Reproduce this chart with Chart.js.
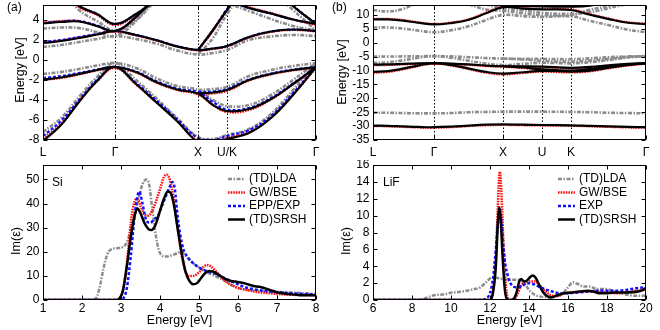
<!DOCTYPE html>
<html><head><meta charset="utf-8">
<script src="https://cdn.jsdelivr.net/npm/chart.js@4.4.1/dist/chart.umd.min.js"></script>
<style>
html,body{margin:0;padding:0;background:#fff;}
body{width:660px;height:330px;position:relative;overflow:hidden;}
canvas{position:absolute;display:block;}
</style></head><body>
<canvas id="ca" width="330" height="160" style="left:0;top:0"></canvas>
<canvas id="cb" width="330" height="160" style="left:330px;top:0"></canvas>
<canvas id="cc" width="330" height="170" style="left:0;top:160px"></canvas>
<canvas id="cd" width="330" height="170" style="left:330px;top:160px"></canvas>
<script>
const N = null;
// ---------- Si band structure (k-path distance, energies in eV) ----------
const siK = [0, 18, 36, 54, 72, 93, 113, 134, 155, 170, 184, 206, 228, 250, 273];
const siKTicks = [0, 72, 155, 184, 273];
const siKLabels = ['L', 'Γ', 'X', 'U/K', 'Γ'];
const siEticks = [-8, -6, -4, -2, 0, 2, 4];

const siBandSRSH = [
  [-8.1,-6.5,-4.2,-2.1,-0.7,-2.4,-4.2,-6.1,-8.2,-8.3,-7.9,-7.3,-5.8,-3.5,-0.7],
  [-1.95,-1.75,-1.4,-1.0,-0.7,-1.2,-2.2,-2.95,-3.35,-4.5,-5.1,-4.9,-3.9,-2.4,-0.7],
  [N,N,N,N,N,N,N,N,-3.35,-3.25,-3.0,-2.0,-1.4,-1.0,-0.7],
  [1.7,1.9,2.2,2.55,2.9,2.5,2.0,1.35,1.0,1.15,1.4,2.3,2.85,3.05,2.9],
  [3.65,3.8,3.85,3.4,2.9,4.3,6.5,N,N,N,N,N,N,N,N],
  [N,7.0,5.4,4.6,3.6,4.6,6.0,N,N,N,N,N,N,N,N],
  [N,N,N,N,N,N,N,N,1.0,3.0,5.0,8.0,N,N,N],
  [N,N,N,N,N,N,N,N,N,N,6.0,5.2,4.65,4.05,3.6],
  [N,N,N,N,N,N,N,N,N,N,N,N,7.5,5.4,3.6]
];
const siBandEPP = [
  [-7.6,-6.1,-4.0,-2.0,-0.7,-2.3,-4.0,-5.9,-7.8,-8.0,-7.6,-7.0,-5.6,-3.3,-0.7],
  [-1.8,-1.6,-1.3,-0.95,-0.7,-1.15,-2.1,-2.85,-3.2,-4.2,-4.95,-4.8,-3.8,-2.35,-0.7],
  [N,N,N,N,N,N,N,N,-3.2,-3.15,-2.9,-1.95,-1.35,-0.95,-0.7],
  [1.8,2.0,2.3,2.6,2.9,2.5,2.0,1.4,1.0,1.15,1.4,2.3,2.85,3.05,2.9],
  [3.7,3.85,3.9,3.45,2.9,4.3,6.5,N,N,N,N,N,N,N,N],
  [N,7.0,5.4,4.6,3.6,4.6,6.0,N,N,N,N,N,N,N,N],
  [N,N,N,N,N,N,N,N,1.0,3.0,5.1,8.0,N,N,N],
  [N,N,N,N,N,N,N,N,N,N,6.0,5.2,4.65,4.05,3.6],
  [N,N,N,N,N,N,N,N,N,N,N,N,7.5,5.45,3.6]
];
const siBandGW = [
  [-7.85,-6.35,-4.1,-2.15,-0.8,-2.45,-4.2,-6.1,-8.1,-8.2,-7.8,-7.2,-5.75,-3.45,-0.8],
  [-2.0,-1.8,-1.45,-1.05,-0.8,-1.25,-2.25,-3.0,-3.45,-4.5,-5.2,-5.0,-3.95,-2.45,-0.8],
  [N,N,N,N,N,N,N,N,-3.45,-3.35,-3.1,-2.05,-1.45,-1.05,-0.8],
  [1.75,1.95,2.25,2.55,2.85,2.45,1.95,1.35,0.95,1.1,1.35,2.25,2.8,3.0,2.85],
  [3.75,3.9,3.9,3.4,2.85,4.3,6.5,N,N,N,N,N,N,N,N],
  [N,7.0,5.3,4.5,3.5,4.5,6.0,N,N,N,N,N,N,N,N],
  [N,N,N,N,N,N,N,N,0.95,2.9,5.0,8.0,N,N,N],
  [N,N,N,N,N,N,N,N,N,N,6.1,5.3,4.7,4.05,3.5],
  [N,N,N,N,N,N,N,N,N,N,N,N,7.5,5.4,3.5]
];
const siBandLDA = [
  [-7.2,-5.8,-3.7,-1.7,-0.3,-2.0,-3.8,-5.8,-7.7,-7.9,-7.5,-6.9,-5.4,-3.0,-0.3],
  [-1.4,-1.2,-0.9,-0.55,-0.3,-0.8,-1.8,-2.6,-3.0,-4.0,-4.6,-4.5,-3.5,-2.0,-0.3],
  [N,N,N,N,N,N,N,N,-3.0,-2.9,-2.7,-1.6,-1.0,-0.6,-0.3],
  [1.3,1.5,1.8,2.1,2.4,2.1,1.65,0.95,0.55,0.7,1.0,2.0,2.35,2.5,2.4],
  [3.15,3.25,3.2,2.8,2.4,3.9,6.5,N,N,N,N,N,N,N,N],
  [N,7.0,5.0,3.9,2.95,4.0,6.0,N,N,N,N,N,N,N,N],
  [N,N,N,N,N,N,N,N,0.55,2.2,4.6,7.5,N,N,N],
  [N,N,N,N,N,N,N,N,N,N,5.7,4.9,4.1,3.4,2.95],
  [N,N,N,N,N,N,N,N,N,N,N,N,7.0,5.0,2.95]
];

// ---------- LiF band structure ----------
const lifK = [0, 15, 30, 45, 61, 78, 96, 113, 130, 150, 169, 198, 217, 236, 255, 273];
const lifKTicks = [0, 61, 130, 169, 198, 273];
const lifKLabels = ['L', 'Γ', 'X', 'U', 'K', 'Γ'];
const lifEticks = [-35, -30, -25, -20, -15, -10, -5, 0, 5, 10];

const lifBandSRSH = [
  [-29.8,-29.9,-30.1,-30.3,-30.4,-30.2,-29.8,-29.5,-29.4,-29.5,-29.6,-29.7,-29.9,-30.1,-30.3,-30.4],
  [-7.9,-7.8,-7.6,-7.4,-7.3,-7.5,-7.8,-8.2,-8.45,-8.5,-8.6,-9.0,-8.7,-8.1,-7.6,-7.3],
  [N,N,N,N,N,N,N,N,-8.45,-8.9,-9.6,-10.0,-9.4,-8.5,-7.8,-7.3],
  [-10.5,-10.2,-9.3,-8.2,-7.3,-8.0,-9.3,-10.5,-11.1,-10.6,-10.1,-10.4,-10.0,-9.0,-8.0,-7.3],
  [8.4,8.4,8.0,7.2,6.6,7.1,8.3,10.6,12.8,12.3,12.0,11.8,10.1,8.5,7.2,6.7],
  [N,N,N,N,N,N,N,15,13.3,13.2,13.1,13.0,13.4,15,N,N]
];
const lifBandGW = [
  [-30.0,-30.1,-30.3,-30.5,-30.6,-30.4,-30.0,-29.7,-29.6,-29.7,-29.8,-29.9,-30.1,-30.3,-30.5,-30.6],
  [-8.1,-8.0,-7.8,-7.6,-7.5,-7.7,-8.0,-8.4,-8.65,-8.7,-8.8,-9.2,-8.9,-8.3,-7.8,-7.5],
  [N,N,N,N,N,N,N,N,-8.65,-9.1,-9.8,-10.2,-9.6,-8.7,-8.0,-7.5],
  [-10.8,-10.5,-9.6,-8.4,-7.5,-8.2,-9.5,-10.8,-11.4,-10.9,-10.4,-10.7,-10.3,-9.2,-8.2,-7.5],
  [8.6,8.6,8.2,7.4,6.8,7.3,8.5,10.8,13.0,12.5,12.2,12.0,10.3,8.7,7.4,6.9],
  [N,N,N,N,N,N,N,15,13.5,13.4,13.3,13.2,13.6,15,N,N]
];
const lifBandLDA = [
  [-25.2,-25.2,-25.3,-25.4,-25.4,-25.3,-25.0,-24.9,-24.8,-24.8,-24.8,-24.9,-25.0,-25.2,-25.3,-25.4],
  [-5.0,-4.95,-4.9,-4.85,-4.8,-4.9,-5.2,-5.5,-5.7,-5.8,-5.8,-5.9,-5.6,-5.2,-4.9,-4.8],
  [N,N,N,N,N,N,N,N,-5.7,-6.0,-6.5,-6.8,-6.4,-5.8,-5.1,-4.8],
  [-7.3,-7.0,-6.3,-5.4,-4.8,-5.4,-6.5,-7.5,-8.0,-7.6,-7.2,-7.4,-7.0,-6.2,-5.3,-4.8],
  [5.5,5.5,5.1,4.4,3.8,4.5,6.0,8.2,10.0,9.6,9.3,9.5,7.9,6.3,4.7,3.8],
  [11.8,11.3,12.2,14.5,N,N,N,N,N,N,N,N,N,N,N,N],
  [N,N,N,N,N,N,13.8,12.0,11.5,10.6,10.0,10.0,11.9,13.2,14.8,N],
  [N,N,N,N,N,N,N,13.8,12.4,11.6,10.8,10.4,11.0,12.5,14.0,N]
];

// ---------- Si absorption spectra: [energy eV, Im(eps)] ----------
const siSpecLDA = [[1,0],[2.2,0],[2.35,0.5],[2.45,5],[2.55,13],[2.65,19],[2.75,21],[2.9,21.5],[3.05,22],[3.15,24],[3.3,32],[3.45,42],[3.55,48],[3.65,50],[3.72,48],[3.8,38],[3.9,26],[4.0,19.5],[4.15,18],[4.3,18.5],[4.45,19.5],[4.55,20],[4.65,18.5],[4.8,16],[5.0,13.5],[5.2,11.5],[5.4,10],[5.6,8.5],[5.8,6.5],[6.0,5],[6.2,4.3],[6.5,4.0],[6.8,3.6],[7.0,3.4],[7.3,3.1],[7.6,2.9],[8.0,2.5]];
const siSpecGW = [[1,0],[2.85,0],[2.95,0.5],[3.05,4],[3.15,15],[3.25,32],[3.35,41],[3.42,42],[3.5,39],[3.6,35.5],[3.7,35],[3.8,37],[3.9,41],[4.0,46],[4.1,51],[4.17,52],[4.25,50],[4.35,42],[4.45,30],[4.55,19],[4.65,12],[4.75,10],[4.85,10],[5.0,11.5],[5.1,13.5],[5.2,14.5],[5.3,14],[5.4,12.5],[5.6,9],[5.8,6.5],[6.0,5],[6.2,4.2],[6.5,3.3],[6.8,2.8],[7.0,2.5],[7.5,2.1],[8.0,2.0]];
const siSpecEPP = [[1,0],[2.95,0],[3.05,0.5],[3.15,5],[3.25,18],[3.35,35],[3.42,43],[3.47,45],[3.55,40],[3.65,33],[3.75,32],[3.85,33.5],[3.95,35],[4.05,39],[4.15,43],[4.25,47],[4.32,49],[4.38,46],[4.45,35],[4.52,27],[4.6,21],[4.7,18],[4.8,16],[5.0,13.5],[5.2,12],[5.4,11],[5.6,9.5],[5.8,8],[6.0,6.5],[6.2,5.2],[6.5,4.2],[6.8,3.5],[7.0,3.2],[7.5,2.7],[8.0,2.3]];
const siSpecSRSH = [[1,0],[2.85,0],[2.95,0.5],[3.05,4],[3.15,14],[3.25,26],[3.35,35],[3.42,38],[3.5,36],[3.6,32],[3.7,29.5],[3.78,29],[3.88,31],[4.0,37],[4.1,42],[4.2,45],[4.27,44.5],[4.35,40],[4.45,30],[4.55,20],[4.65,12],[4.75,8],[4.85,6.5],[4.95,7],[5.05,9],[5.15,11],[5.25,12],[5.35,11.8],[5.5,10.5],[5.65,9],[5.8,8],[6.0,7.5],[6.2,6.8],[6.4,5.8],[6.55,5.5],[6.7,4.8],[6.85,4],[7.0,3.2],[7.3,2.5],[7.6,2.0],[8.0,2.0]];
const siXticks = [1, 2, 3, 4, 5, 6, 7, 8];
const siYticks = [0, 10, 20, 30, 40, 50];

// ---------- LiF absorption spectra ----------
const lifSpecLDA = [[6,0],[8.3,0],[8.6,0.15],[8.9,0.4],[9.2,0.6],[9.6,0.65],[10.0,0.85],[10.4,0.95],[10.8,1.1],[11.2,1.3],[11.5,1.5],[11.8,2.1],[12.1,2.65],[12.4,2.6],[12.7,2.45],[13.0,2.4],[13.4,2.4],[13.7,2.2],[14.0,1.2],[14.3,0.6],[14.6,0.4],[15.0,0.35],[15.4,0.4],[15.7,0.7],[16.0,1.5],[16.25,2.1],[16.5,1.9],[16.8,1.6],[17.1,1.6],[17.5,1.3],[17.9,1.3],[18.3,1.1],[18.7,0.8],[19.2,0.55],[19.6,0.5],[20,0.5]];
const lifSpecGW = [[6,0],[12.0,0],[12.15,1],[12.3,5],[12.4,11],[12.5,15.2],[12.6,12],[12.7,6],[12.8,2],[12.9,0.3],[13.0,0],[13.2,0],[13.4,0.6],[13.55,1.5],[13.7,2.0],[14.0,2.2],[14.3,2.2],[14.6,1.6],[14.9,0.9],[15.2,0.5],[15.5,0.5],[15.8,0.8],[16.2,0.9],[16.8,1.0],[17.5,1.0],[18.0,0.9],[18.5,0.8],[19.0,0.9],[19.5,1.1],[20,1.2]];
const lifSpecEXP = [[6,0],[11.6,0],[11.8,0.2],[12.0,0.8],[12.15,2.5],[12.3,6],[12.4,9],[12.5,10.8],[12.6,9],[12.7,6],[12.8,4],[12.9,3],[13.0,2.2],[13.2,1.6],[13.4,1.5],[13.6,1.6],[13.9,2.0],[14.2,1.9],[14.5,1.6],[14.8,1.3],[15.2,1.0],[15.6,0.8],[16.0,0.8],[16.5,0.9],[17.0,1.0],[17.5,1.1],[18.0,1.1],[18.5,1.1],[19.0,1.2],[19.5,1.4],[20,1.5]];
const lifSpecSRSH = [[6,0],[12.0,0],[12.15,0.8],[12.3,4],[12.4,9],[12.47,11],[12.55,9.5],[12.65,5],[12.75,1.5],[12.85,0.2],[13.0,0],[13.2,0.1],[13.35,0.8],[13.5,2.2],[13.6,2.5],[13.75,2.2],[13.9,2.3],[14.05,2.7],[14.2,2.9],[14.35,2.6],[14.5,1.9],[14.7,1.0],[14.9,0.5],[15.1,0.3],[15.3,0.4],[15.5,0.6],[15.8,0.8],[16.2,0.9],[16.6,1.0],[17.0,1.1],[17.3,1.0],[17.6,0.8],[18.0,0.8],[18.5,0.9],[19.0,0.9],[19.6,1.0],[19.85,1.2],[20,1.45]];
const lifXticks = [6, 8, 10, 12, 14, 16, 18, 20];
const lifYticks = [0, 2, 4, 6, 8, 10, 12, 14, 16];

const legendSi = ['(TD)LDA', 'GW/BSE', 'EPP/EXP', '(TD)SRSH'];
const legendLiF = ['(TD)LDA', 'GW/BSE', 'EXP', '(TD)SRSH'];

// ---------- styles ----------
const FONT = '"Liberation Sans", Arial, Helvetica, sans-serif';
Chart.defaults.font.family = FONT;
Chart.defaults.color = '#000';
const S_LDA = {borderColor:'#8c8c8c', borderWidth:2.5, borderDash:[4,1.5,1.5,1.5]};
const S_GW = {borderColor:'#ff1010', borderWidth:2.5, borderDash:[1.6,1]};
const S_EPP = {borderColor:'#1010ff', borderWidth:2.5, borderDash:[3,2]};
const S_SRSH = {borderColor:'#000000', borderWidth:2.5, borderDash:[]};

function bandSets(k, arr, st, w) {
  return arr.map(b => Object.assign({
    data: b.map((v, i) => ({x: k[i], y: v})),
    tension: 0.4, pointRadius: 0, fill: false
  }, st, {borderWidth: w}));
}
function specSet(pts, st) {
  return Object.assign({
    data: pts.map(p => ({x: p[0], y: p[1]})),
    cubicInterpolationMode: 'monotone', pointRadius: 0, fill: false
  }, st);
}

function mkScales(o) {
  return {
    x: {type:'linear', min:o.xmin, max:o.xmax,
      afterBuildTicks: s => { s.ticks = o.xticks.map(v => ({value:v})); },
      afterFit: s => { s.height = o.xh; s.paddingLeft = 0; s.paddingRight = 0; },
      ticks: {autoSkip:false, maxRotation:0, minRotation:0, padding:o.xpad, color:'#000',
        font:{size:12, family:FONT},
        callback: (v, i) => o.xlabels ? o.xlabels[i] : String(v)},
      grid: {display:false, drawTicks:false}, border: {display:false}},
    y: {type:'linear', min:o.ymin, max:o.ymax,
      afterBuildTicks: s => { s.ticks = o.yticks.map(v => ({value:v})); },
      afterFit: s => { s.width = 43; s.paddingTop = 0; s.paddingBottom = 0; },
      ticks: {autoSkip:false, padding:3.5, color:'#000', font:{size:12, family:FONT}, callback: v => String(v)},
      grid: {display:false, drawTicks:false}, border: {display:false}}
  };
}

const decoPlugin = {
  id: 'deco',
  beforeDatasetsDraw(chart, args, o) {
    if (!o.vlines) return;
    const {ctx, chartArea:a} = chart; const xs = chart.scales.x;
    ctx.save(); ctx.strokeStyle = '#000'; ctx.lineWidth = 1; ctx.setLineDash([1.5, 2]);
    o.vlines.forEach(v => {
      const X = Math.round(xs.getPixelForValue(v)) + 0.5;
      ctx.beginPath(); ctx.moveTo(X, a.top); ctx.lineTo(X, a.bottom); ctx.stroke();
    });
    ctx.restore();
  },
  afterDatasetsDraw(chart, args, o) {
    const {ctx, chartArea:a} = chart; const xs = chart.scales.x, ys = chart.scales.y;
    ctx.save();
    ctx.strokeStyle = '#000'; ctx.lineWidth = 1; ctx.setLineDash([]);
    const L = Math.round(a.left) + 0.5, R = Math.round(a.right) - 0.5, T = Math.round(a.top) + 0.5, B = Math.round(a.bottom) - 0.5;
    ctx.strokeRect(L, T, R - L, B - T);
    ctx.beginPath();
    ys.ticks.forEach(t => { const Y = Math.round(ys.getPixelForValue(t.value)) + 0.5;
      ctx.moveTo(L, Y); ctx.lineTo(L + 4, Y); ctx.moveTo(R, Y); ctx.lineTo(R - 4, Y); });
    xs.ticks.forEach(t => { const X = Math.round(xs.getPixelForValue(t.value)) + 0.5;
      ctx.moveTo(X, B); ctx.lineTo(X, B - 4); ctx.moveTo(X, T); ctx.lineTo(X, T + 4); });
    ctx.stroke();
    if (o.legend) {
      const lg = o.legend;
      lg.items.forEach((it, i) => {
        const y = lg.ys[i];
        ctx.save();
        ctx.strokeStyle = it.st.borderColor; ctx.lineWidth = it.st.borderWidth;
        ctx.setLineDash(it.st.borderDash || []);
        ctx.beginPath(); ctx.moveTo(lg.x1, y); ctx.lineTo(lg.x2, y); ctx.stroke();
        ctx.restore();
        ctx.fillStyle = '#000'; ctx.font = '12px ' + FONT; ctx.textAlign = 'left'; ctx.textBaseline = 'middle';
        ctx.fillText(it.label, lg.tx, y);
      });
    }
    (o.texts || []).forEach(tx => {
      ctx.save();
      ctx.font = (tx.size || 12) + 'px ' + FONT; ctx.fillStyle = '#000';
      ctx.textAlign = tx.align || 'left'; ctx.textBaseline = 'middle';
      ctx.translate(tx.x, tx.y); if (tx.rot) ctx.rotate(tx.rot * Math.PI / 180);
      ctx.fillText(tx.t, 0, 0);
      ctx.restore();
    });
    ctx.restore();
  }
};

function makeChart(id, datasets, so, deco) {
  return new Chart(document.getElementById(id), {
    type: 'line',
    data: {datasets},
    options: {
      responsive: false, animation: false, events: [],
      layout: {padding: {top:5, right:14, bottom:0, left:0}},
      plugins: {legend:{display:false}, tooltip:{enabled:false}, deco},
      scales: mkScales(so)
    },
    plugins: [decoPlugin]
  });
}

// (a) Si bands
makeChart('ca',
  [...bandSets(siK, siBandSRSH, S_SRSH, 2.2), ...bandSets(siK, siBandEPP, S_EPP, 2.2),
   ...bandSets(siK, siBandGW, S_GW, 2.2), ...bandSets(siK, siBandLDA, S_LDA, 2.6)],
  {xmin:0, xmax:273, xticks:siKTicks, xlabels:siKLabels, xh:20, xpad:5, ymin:-8, ymax:5.5, yticks:siEticks},
  {vlines:[72, 155, 184], texts:[{t:'(a)', x:7, y:8}, {t:'Energy [eV]', x:20.8, y:70, rot:-90, size:12.5, align:'center'}]});

// (b) LiF bands
makeChart('cb',
  [...bandSets(lifK, lifBandSRSH, S_SRSH, 2.2), ...bandSets(lifK, lifBandGW, S_GW, 2.2),
   ...bandSets(lifK, lifBandLDA, S_LDA, 2.6)],
  {xmin:0, xmax:273, xticks:lifKTicks, xlabels:lifKLabels, xh:20, xpad:5, ymin:-35, ymax:13.6, yticks:lifEticks},
  {vlines:[61, 130, 169, 198], texts:[{t:'(b)', x:2, y:8}, {t:'Energy [eV]', x:12.5, y:72, rot:-90, size:12.5, align:'center'}]});

const legYs = [19, 32.5, 46, 59.5];
// Si spectrum
makeChart('cc',
  [specSet(siSpecSRSH, S_SRSH), specSet(siSpecEPP, S_EPP), specSet(siSpecGW, S_GW), specSet(siSpecLDA, S_LDA)],
  {xmin:1, xmax:8, xticks:siXticks, xh:30, xpad:1, ymin:0, ymax:56, yticks:siYticks},
  {legend:{x1:228, x2:245, tx:249, ys:legYs, items:[
      {label:legendSi[0], st:S_LDA}, {label:legendSi[1], st:S_GW}, {label:legendSi[2], st:S_EPP}, {label:legendSi[3], st:S_SRSH}]},
   texts:[{t:'Si', x:52, y:23}, {t:'Im(ε)', x:16.2, y:81, rot:-90, size:12.5, align:'center'},
          {t:'Energy [eV]', x:179.5, y:161, size:12.5, align:'center'}]});

// LiF spectrum
makeChart('cd',
  [specSet(lifSpecSRSH, S_SRSH), specSet(lifSpecEXP, S_EPP), specSet(lifSpecGW, S_GW), specSet(lifSpecLDA, S_LDA)],
  {xmin:6, xmax:20, xticks:lifXticks, xh:30, xpad:1, ymin:0, ymax:16, yticks:lifYticks},
  {legend:{x1:228, x2:245, tx:249, ys:legYs, items:[
      {label:legendLiF[0], st:S_LDA}, {label:legendLiF[1], st:S_GW}, {label:legendLiF[2], st:S_EPP}, {label:legendLiF[3], st:S_SRSH}]},
   texts:[{t:'LiF', x:53, y:23}, {t:'Im(ε)', x:16.2, y:81, rot:-90, size:12.5, align:'center'},
          {t:'Energy [eV]', x:179.5, y:161, size:12.5, align:'center'}]});
</script>
</body></html>
